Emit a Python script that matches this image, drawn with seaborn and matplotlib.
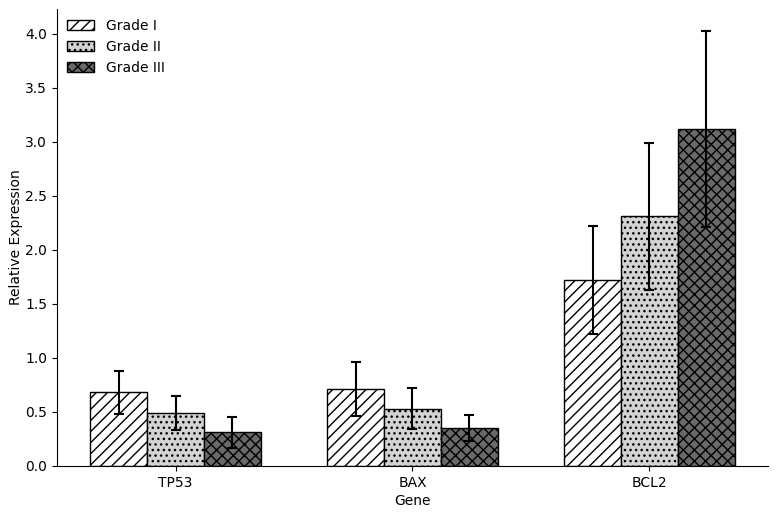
import matplotlib
matplotlib.use("Agg")
import matplotlib.pyplot as plt
from matplotlib.patches import Patch
import seaborn as sns
import pandas as pd
import numpy as np

genes = ["TP53", "BAX", "BCL2"]
grades = ["Grade I", "Grade II", "Grade III"]
means = {
    "Grade I":   [0.68, 0.71, 1.72],
    "Grade II":  [0.49, 0.53, 2.31],
    "Grade III": [0.31, 0.35, 3.12],
}
sds = {
    "Grade I":   [0.20, 0.25, 0.50],
    "Grade II":  [0.16, 0.19, 0.68],
    "Grade III": [0.14, 0.12, 0.91],
}
colors = {"Grade I": "white", "Grade II": "lightgray", "Grade III": "dimgray"}
hatches = {"Grade I": "///", "Grade II": "...", "Grade III": "xxx"}

rows = []
for g in grades:
    for i, gene in enumerate(genes):
        rows.append({"Gene": gene, "Grade": g, "Mean": means[g][i], "SD": sds[g][i]})
df = pd.DataFrame(rows)

sns.set_style("ticks")
plt.rcParams['font.family'] = ['DejaVu Sans']
plt.rcParams['hatch.linewidth'] = 1.0
for key in ['text.color', 'axes.labelcolor', 'xtick.color', 'ytick.color', 'axes.edgecolor']:
    plt.rcParams[key] = 'black'

fig, ax = plt.subplots(figsize=(7.78, 5.16), dpi=100)
sns.barplot(data=df, x="Gene", y="Mean", hue="Grade", order=genes, hue_order=grades,
            palette=colors, errorbar=None, width=0.72, edgecolor="black",
            linewidth=1.0, ax=ax, legend=False)

bars = [p for p in ax.patches]
k = 0
for g in grades:
    for i, gene in enumerate(genes):
        p = bars[k]
        p.set_hatch(hatches[g])
        p.set_edgecolor("black")
        x = p.get_x() + p.get_width() / 2
        ax.errorbar(x, means[g][i], yerr=sds[g][i], color="black", capsize=3.6,
                    elinewidth=1.5, capthick=1.5, fmt="none", zorder=5)
        k += 1

handles = [Patch(facecolor=colors[g], edgecolor="black", hatch=hatches[g], label=g) for g in grades]
ax.legend(handles=handles, loc="upper left", frameon=False, bbox_to_anchor=(-0.004, 1.005))

ax.set_xlim(-0.5, 2.5)
ax.set_xlabel("Gene", labelpad=3)
ax.set_ylabel("Relative Expression", labelpad=2)
sns.despine(ax=ax)
fig.subplots_adjust(left=0.0733, right=0.987, top=0.983, bottom=0.097)
fig.savefig("out.png", dpi=100)
